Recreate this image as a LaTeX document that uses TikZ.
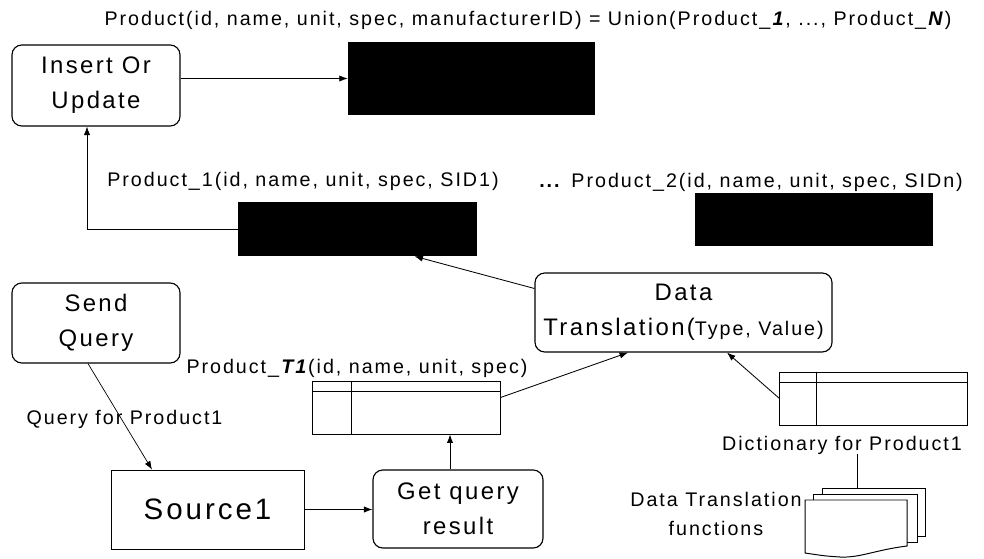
\documentclass[tikz,border=0pt]{standalone}
\usepackage{fontspec}
\setmainfont{Liberation Sans}[LetterSpace=10]
\usetikzlibrary{arrows.meta,calc}

\begin{document}
\begin{tikzpicture}[x=0.025cm, y=-0.025cm,
  proc/.style={draw, rounded corners=7pt, line width=0.8pt, align=center, inner sep=0pt,
    font=\fontsize{17}{25}\selectfont},
  srcbox/.style={draw, line width=0.6pt, inner sep=0pt, font=\fontsize{21}{25}\selectfont},
  blk/.style={fill=black, inner sep=0pt},
  tbl/.style={draw, line width=0.7pt, inner sep=0pt, minimum width=4.675cm, minimum height=1.325cm},
  lbl/.style={inner sep=0pt, font=\fontsize{14}{16}\selectfont},
  arr/.style={-{Latex[length=6pt,width=4.5pt]}, line width=0.6pt}]
\useasboundingbox (0,0) rectangle (984,558);
% union of all products
\node[lbl] (title) at (528,20)
 {Product(id, name, unit, spec, manufacturerID) = Union(Product\_\textbf{\textit{1}}, ..., Product\_\textbf{\textit{N}})};
\node[proc, minimum width=4.2cm, minimum height=2.025cm] (ins) at (96,85.5) {Insert Or\\Update};
\node[blk, minimum width=6.175cm, minimum height=1.825cm] (blk1) at (471.5,78.5) {};
\draw[arr] (blk1.west -| ins.east) -- (blk1.west);
% per-source products
\node[lbl] (p1lbl) at (303,181) {Product\_1(id, name, unit, spec, SID1)};
\node[lbl] (p2lbl) at (751,182) {\textbf{...} Product\_2(id, name, unit, spec, SIDn)};
\node[blk, minimum width=5.975cm, minimum height=1.35cm] (blk2) at (357.5,229) {};
\node[blk, minimum width=5.95cm, minimum height=1.325cm] (blk3) at (814,219.5) {};
\draw[arr] (blk2.west) -| ($(ins.south)+(-9,0)$);
% translation
\node[proc, minimum width=7.425cm, minimum height=1.975cm] (dt) at (683.5,312.5)
 {Data\\Translation(\fontsize{14}{16}\selectfont Type, Value)};
\draw[arr] ($(dt.west)+(0,-24)$) -- ($(blk2.south)+(57,0)$);
% query side
\node[proc, minimum width=4.2cm, minimum height=2cm] (sq) at (96,323) {Send\\Query};
\node[srcbox, minimum width=4.825cm, minimum height=1.975cm] (src) at (207.5,509.5) {Source1};
\node[proc, minimum width=4.25cm, minimum height=1.95cm] (gq) at (458,509) {Get query\\result};
\node[lbl] (qlbl) at (124.5,419) {Query for Product1};
\draw[arr, line width=0.5pt] ($(sq.south)+(-8,0)$) -- ($(src.north)+(-55.5,0)$);
\draw[arr] (src.east) -- (src.east -| gq.west);
% query result table
\node[lbl] (t1lbl) at (357,368) {Product\_\textbf{\textit{T1}}(id, name, unit, spec)};
\node[tbl] (t1) at (406.5,407.5) {};
\draw[line width=0.5pt] ($(t1.north west)+(0,11)$) -- ($(t1.north east)+(0,11)$);
\draw[line width=0.7pt] ($(t1.north west)+(39,0)$) -- ($(t1.south west)+(39,0)$);
\coordinate (t1in) at ($(t1.south)+(43.5,0)$);
\draw[arr] (gq.north -| t1in) -- (t1in);
\draw[arr] ($(t1.east)+(0,-10)$) -- ($(dt.south)+(-55.5,0)$);
% dictionary table
\node[tbl] (dict) at (873.5,398.5) {};
\draw[line width=1.2pt] ($(dict.north west)+(0,11)$) -- ($(dict.north east)+(0,11)$);
\draw[line width=0.7pt] ($(dict.north west)+(37,0)$) -- ($(dict.south west)+(37,0)$);
\node[lbl] (dictlbl) at (842,445) {Dictionary for Product1};
\draw[arr] (dict.west) -- ($(dt.south)+(43.5,0)$);
% translation functions
\node[lbl, align=center, font=\fontsize{14}{20.5}\selectfont] (fnlbl) at (716,514) {Data Translation\\functions};
\draw[fill=white, line width=0.7pt] (822,488) rectangle (925,536);
\draw[fill=white, line width=0.7pt] (813,494) rectangle (917,542);
\draw[fill=white, line width=0.7pt] (805,500) -- (907,500) -- (907,546)
  .. controls (875,550) and (860,558) .. (840,557) .. controls (825,556) .. (805,553) -- cycle;
\coordinate (fn) at (857,488);
\draw[line width=0.6pt] (dictlbl.south -| fn) -- (fn);
\end{tikzpicture}
\end{document}
